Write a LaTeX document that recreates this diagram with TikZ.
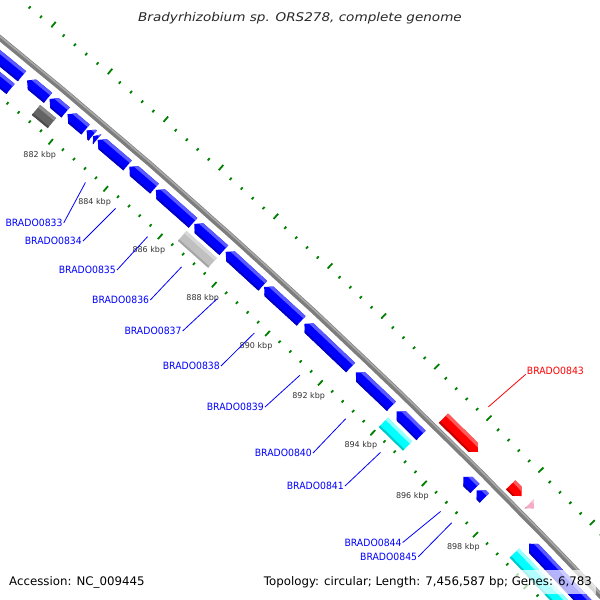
\documentclass[tikz,border=0pt]{standalone}
\usepackage{fontspec}
\usepackage{graphicx}
\setmainfont{DejaVu Sans}[ItalicFont={DejaVu Sans Oblique}]
\newfontfamily\labfont[FakeStretch=0.93]{DejaVu Sans}
\usetikzlibrary{calc}
\definecolor{tickg}{RGB}{0,128,0}
\definecolor{bbgray}{RGB}{125,125,125}
\definecolor{bblight}{RGB}{170,170,170}
\definecolor{bluM}{RGB}{0,0,255}\definecolor{bluL}{RGB}{90,90,255}\definecolor{bluD}{RGB}{0,0,195}
\definecolor{redM}{RGB}{255,0,0}\definecolor{redL}{RGB}{255,90,90}\definecolor{redD}{RGB}{195,0,0}
\definecolor{cyaM}{RGB}{0,255,255}\definecolor{cyaL}{RGB}{150,255,255}\definecolor{cyaD}{RGB}{0,200,200}
\definecolor{dgrM}{RGB}{100,100,100}\definecolor{dgrL}{RGB}{140,140,140}\definecolor{dgrD}{RGB}{75,75,75}
\definecolor{lgrM}{RGB}{192,192,192}\definecolor{lgrL}{RGB}{215,215,215}\definecolor{lgrD}{RGB}{165,165,165}
\definecolor{pnkM}{RGB}{245,170,200}\definecolor{pnkL}{RGB}{250,200,222}\definecolor{pnkD}{RGB}{225,145,175}
\definecolor{labblue}{RGB}{0,0,255}
\definecolor{labred}{RGB}{255,0,0}
\definecolor{ticktext}{RGB}{51,51,51}
% point at position #1 (kbp) and radius #2 (px), image coordinates
\newcommand\PP[2]{({-4056+(#2)*cos(49.84-0.3255*((#1)-882))},{5009-(#2)*sin(49.84-0.3255*((#1)-882))})}
% reverse-strand gene, head at low end
\newcommand\revg[5]{%
 \pgfmathsetmacro\gH{min(0.18,(#2)-(#1))}%
 \pgfmathsetmacro\gM{((#3)+(#4))/2}%
 \pgfmathsetmacro\gW{(#4)-(#3)}%
 \pgfmathsetmacro\gA{(#1)+\gH}%
 \pgfmathsetmacro\gL{(#1)+\gH*0.5}%
 \pgfmathsetmacro\gD{(#1)+\gH*0.70}%
 \pgfmathsetmacro\rL{(#4)-0.25*\gW}%
 \pgfmathsetmacro\rD{(#3)+0.15*\gW}%
 \fill[#5M] \PP{#1}{\gM} -- \PP{\gA}{#4} -- \PP{#2}{#4} -- \PP{#2}{#3} -- \PP{\gA}{#3} -- cycle;
 \fill[#5L] \PP{\gL}{\rL} -- \PP{\gA}{#4} -- \PP{#2}{#4} -- \PP{#2}{\rL} -- cycle;
 \fill[#5D] \PP{\gD}{\rD} -- \PP{\gA}{#3} -- \PP{#2}{#3} -- \PP{#2}{\rD} -- cycle;
}
% forward-strand gene, head at high end
\newcommand\fwdg[5]{%
 \pgfmathsetmacro\gH{min(0.18,(#2)-(#1))}%
 \pgfmathsetmacro\gM{((#3)+(#4))/2}%
 \pgfmathsetmacro\gW{(#4)-(#3)}%
 \pgfmathsetmacro\gA{(#2)-\gH}%
 \pgfmathsetmacro\gL{(#2)-\gH*0.5}%
 \pgfmathsetmacro\gD{(#2)-\gH*0.70}%
 \pgfmathsetmacro\rL{(#4)-0.25*\gW}%
 \pgfmathsetmacro\rD{(#3)+0.15*\gW}%
 \fill[#5M] \PP{#1}{#3} -- \PP{#1}{#4} -- \PP{\gA}{#4} -- \PP{#2}{\gM} -- \PP{\gA}{#3} -- cycle;
 \fill[#5L] \PP{#1}{\rL} -- \PP{#1}{#4} -- \PP{\gA}{#4} -- \PP{\gL}{\rL} -- cycle;
 \fill[#5D] \PP{#1}{#3} -- \PP{#1}{\rD} -- \PP{\gD}{\rD} -- \PP{\gA}{#3} -- cycle;
}
% box feature
\newcommand\boxg[5]{%
 \pgfmathsetmacro\gW{(#4)-(#3)}%
 \pgfmathsetmacro\rL{(#4)-0.25*\gW}%
 \pgfmathsetmacro\rD{(#3)+0.15*\gW}%
 \fill[#5M] \PP{#1}{#3} -- \PP{#1}{#4} -- \PP{#2}{#4} -- \PP{#2}{#3} -- cycle;
 \fill[#5L] \PP{#1}{\rL} -- \PP{#1}{#4} -- \PP{#2}{#4} -- \PP{#2}{\rL} -- cycle;
 \fill[#5D] \PP{#1}{#3} -- \PP{#1}{\rD} -- \PP{#2}{\rD} -- \PP{#2}{#3} -- cycle;
}
\tikzset{
 tickmark/.style={draw=tickg, line width=1.8pt},
 ticklab/.style={font=\fontsize{8}{9}\selectfont, text=ticktext, inner sep=0pt},
 glab/.style={font=\labfont\fontsize{10}{12}\selectfont, text=labblue, inner sep=1pt, anchor=east},
 rlab/.style={font=\labfont\fontsize{10}{12}\selectfont, text=labred, inner sep=1pt, anchor=west},
 gline/.style={draw=labblue, line width=0.8pt},
 rline/.style={draw=labred, line width=0.8pt},
 infotext/.style={font=\fontsize{11.8}{14}\selectfont, fill=white, fill opacity=0.7, text opacity=1, inner xsep=4pt, inner ysep=6.5pt},
}
\begin{document}
\begin{tikzpicture}[x=1pt,y=-1pt]
\useasboundingbox (0,0) rectangle (600,600);
\fill[white] (0,0) rectangle (600,600);
\clip (0,0) rectangle (600,600);
% tick rings
\foreach \i in {2190,...,2260}{%
  \pgfmathsetmacro\kk{0.4*\i}%
  \pgfmathtruncatemacro\mj{mod(\i,5)}%
  \ifnum\mj=0
    \draw[tickmark] \PP{\kk}{6365} -- \PP{\kk}{6372};
    \draw[tickmark] \PP{\kk}{6457} -- \PP{\kk}{6464};
  \else
    \draw[tickmark] \PP{\kk}{6369} -- \PP{\kk}{6372};
    \draw[tickmark] \PP{\kk}{6457} -- \PP{\kk}{6460};
  \fi
}
% backbone
\draw[line width=5.5pt, bbgray] plot[domain=41:53, samples=80] ({-4056+6416*cos(\x)},{5009-6416*sin(\x)});
\draw[line width=1.5pt, bblight] plot[domain=41:53, samples=80] ({-4056+6417.3*cos(\x)},{5009-6417.3*sin(\x)});
% track 1 (reverse strand CDS)
\revg{877.0}{880.22}{6394}{6407}{blu}
\revg{880.40}{881.15}{6394}{6407}{blu}
\revg{881.20}{881.78}{6394}{6407}{blu}
\revg{881.85}{882.50}{6394}{6407}{blu}
\revg{882.54}{882.76}{6394}{6407}{blu}
\revg{882.78}{882.92}{6394}{6407}{blu}
\revg{882.94}{884.02}{6394}{6407}{blu}
\revg{884.08}{885.00}{6394}{6407}{blu}
\revg{885.05}{886.42}{6394}{6407}{blu}
\revg{886.46}{887.55}{6394}{6407}{blu}
\revg{887.62}{889.00}{6394}{6407}{blu}
\revg{889.05}{890.43}{6394}{6407}{blu}
\revg{890.55}{892.30}{6394}{6407}{blu}
\revg{892.50}{893.85}{6394}{6407}{blu}
\revg{894.05}{894.99}{6394}{6407}{blu}
\revg{896.62}{897.07}{6394}{6407}{blu}
\revg{897.14}{897.44}{6394}{6407}{blu}
\revg{899.20}{904.00}{6394}{6407}{blu}
% track 2
\revg{877.0}{880.20}{6377}{6390}{blu}
\boxg{881.11}{881.68}{6377}{6390}{dgr}
\boxg{886.43}{887.55}{6377}{6390}{lgr}
\boxg{894.00}{894.93}{6377}{6390}{cya}
\boxg{899.10}{904.00}{6377}{6390}{cya}
% outer track (forward strand)
\fwdg{895.10}{896.42}{6422}{6435}{red}
\fwdg{897.69}{898.12}{6422}{6435}{red}
\fwdg{898.42}{898.60}{6422}{6435}{pnk}
% tick labels
\foreach \k in {882,884,...,898}{\path \PP{\k}{6351} node[ticklab] (t\k) {\k\ kbp};}
% gene labels
\node[glab] (l33) at (63.7,223) {BRADO0833};
\node[glab] (l34) at (83,241) {BRADO0834};
\node[glab] (l35) at (117,270) {BRADO0835};
\node[glab] (l36) at (150.3,300) {BRADO0836};
\node[glab] (l37) at (182.7,331) {BRADO0837};
\node[glab] (l38) at (221,366) {BRADO0838};
\node[glab] (l39) at (265,407) {BRADO0839};
\node[glab] (l40) at (313,453) {BRADO0840};
\node[glab] (l41) at (345,486) {BRADO0841};
\node[glab] (l44) at (402.7,542.5) {BRADO0844};
\node[glab] (l45) at (418.3,556.7) {BRADO0845};
\node[rlab] (l43) at (525.7,371) {BRADO0843};
\draw[gline] (l33.east) -- \PP{883.45}{6360};
\draw[gline] (l34.east) -- \PP{884.55}{6360};
\draw[gline] (l35.east) -- \PP{885.73}{6360};
\draw[gline] (l36.east) -- \PP{886.99}{6360};
\draw[gline] (l37.east) -- \PP{888.31}{6360};
\draw[gline] (l38.east) -- \PP{889.71}{6360};
\draw[gline] (l39.east) -- \PP{891.43}{6360};
\draw[gline] (l40.east) -- \PP{893.18}{6360};
\draw[gline] (l41.east) -- \PP{894.52}{6360};
\draw[gline] (l44.east) -- \PP{896.85}{6360};
\draw[gline] (l45.east) -- \PP{897.29}{6360};
\draw[rline] ($(l43.west)+(0,3.3)$) -- \PP{895.76}{6468};
% title and info
\node[font=\itshape\fontsize{12}{14}\selectfont, text={rgb,255:red,40;green,40;blue,40}] (title) at (300,18.5) {\scalebox{1.13}[1]{Bradyrhizobium sp. ORS278, complete genome}};
\node[infotext, anchor=base west] (acc) at (5,585.5) {Accession: NC\_009445};
\node[infotext, anchor=base east] (topo) at (596,585.5) {Topology: circular; Length: 7,456,587 bp; Genes: 6,783};
\end{tikzpicture}
\end{document}
